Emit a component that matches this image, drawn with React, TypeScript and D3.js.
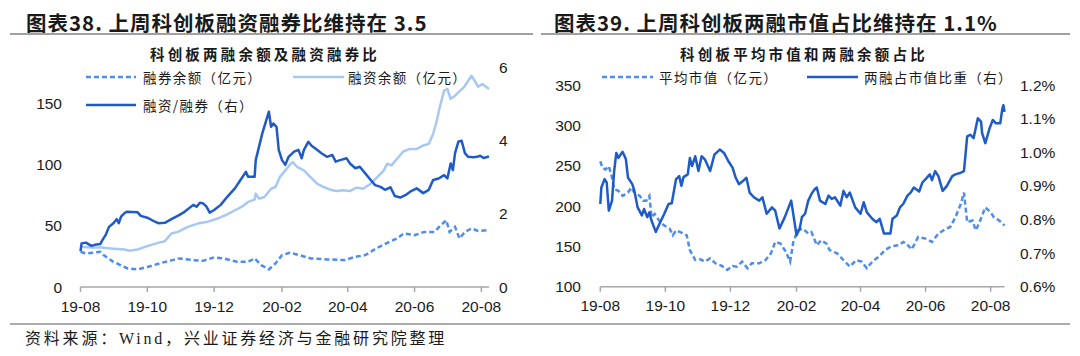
import React from 'react';
import * as d3 from 'd3';

const parse = d3.timeParse('%Y-%m-%d');

// ---------- Left chart (图表38) ----------
const leftTitle = '图表38. 上周科创板融资融券比维持在 3.5';
const leftSubtitle = '科创板两融余额及融资融券比';
const leftLegend = ['融券余额（亿元）', '融资余额（亿元）', '融资/融券（右）'];
const leftYTicks = [0, 50, 100, 150];
const leftY2Ticks = [0, 2, 4, 6];

const ratioDates = ['2019-08-01','2019-08-02','2019-08-06','2019-08-11','2019-08-14','2019-08-19','2019-08-21','2019-08-24','2019-08-27','2019-08-31','2019-09-03','2019-09-05','2019-09-07','2019-09-10','2019-09-12','2019-09-22','2019-09-25','2019-10-01','2019-10-08','2019-10-11','2019-10-17','2019-10-23','2019-10-30','2019-11-04','2019-11-12','2019-11-15','2019-11-18','2019-11-21','2019-11-24','2019-11-27','2019-12-01','2019-12-07','2019-12-13','2019-12-20','2019-12-26','2019-12-30','2020-01-01','2020-01-07','2020-01-08','2020-01-14','2020-01-20','2020-01-22','2020-01-24','2020-01-27','2020-01-29','2020-02-01','2020-02-04','2020-02-07','2020-02-12','2020-02-16','2020-02-19','2020-02-21','2020-02-25','2020-02-28','2020-03-04','2020-03-08','2020-03-13','2020-03-18','2020-03-21','2020-03-25','2020-03-31','2020-04-03','2020-04-08','2020-04-12','2020-04-17','2020-04-22','2020-04-26','2020-05-01','2020-05-05','2020-05-10','2020-05-14','2020-05-19','2020-05-24','2020-05-28','2020-06-03','2020-06-09','2020-06-14','2020-06-18','2020-06-23','2020-06-28','2020-07-01','2020-07-04','2020-07-06','2020-07-08','2020-07-11','2020-07-14','2020-07-17','2020-07-20','2020-07-25','2020-07-28','2020-07-31','2020-08-03','2020-08-08'];
const ratioValues = [0.98,1.19,1.21,1.12,1.15,1.17,1.28,1.42,1.64,1.74,1.85,1.74,1.92,2.01,2.05,2.04,1.94,1.89,1.78,1.74,1.75,1.85,1.96,2.05,2.24,2.19,2.30,2.28,2.19,2.03,2.10,2.24,2.46,2.69,2.96,3.14,3.01,3.01,3.46,4.19,4.78,4.37,4.46,4.37,3.74,3.46,3.33,3.55,3.69,3.74,3.51,3.74,3.96,3.85,3.74,3.65,3.55,3.60,3.42,3.46,3.51,3.37,3.24,3.28,3.10,2.92,2.78,2.73,2.65,2.72,2.48,2.44,2.51,2.60,2.69,2.56,2.65,2.92,2.96,3.05,2.96,3.37,3.19,3.65,3.96,3.99,3.65,3.55,3.54,3.55,3.58,3.52,3.56];

const financingDates = ['2019-08-01','2019-08-11','2019-08-20','2019-08-29','2019-09-10','2019-09-15','2019-09-22','2019-10-01','2019-10-11','2019-10-17','2019-10-23','2019-10-29','2019-11-07','2019-11-16','2019-11-25','2019-12-04','2019-12-13','2019-12-20','2019-12-26','2020-01-01','2020-01-07','2020-01-08','2020-01-11','2020-01-16','2020-01-22','2020-01-26','2020-01-30','2020-02-04','2020-02-09','2020-02-11','2020-02-15','2020-02-21','2020-02-27','2020-03-04','2020-03-10','2020-03-16','2020-03-22','2020-03-28','2020-04-03','2020-04-09','2020-04-15','2020-04-22','2020-04-28','2020-05-04','2020-05-07','2020-05-11','2020-05-16','2020-05-22','2020-05-28','2020-06-03','2020-06-09','2020-06-14','2020-06-18','2020-06-21','2020-06-24','2020-06-28','2020-07-01','2020-07-04','2020-07-08','2020-07-11','2020-07-16','2020-07-20','2020-07-23','2020-07-26','2020-07-29','2020-08-02','2020-08-08'];
const financingValues = [32.9,32.3,32.3,31.5,30.7,29.6,30.7,33.4,36.1,37.5,43.8,45.1,49.2,51.9,53.3,56.0,59.5,62.8,65.5,69.6,71.5,76.4,72.3,73.6,80.4,81.8,89.9,95.4,100.8,102.2,98.0,95.4,89.9,84.5,81.8,79.6,78.5,79.1,78.5,81.3,80.4,84.5,89.9,95.4,100.8,99.5,104.9,111.1,113.0,113.0,115.8,117.1,125.3,134.8,147.0,160.6,162.0,153.8,156.5,159.2,163.3,168.7,172.8,168.7,163.9,166.0,162.0];

const shortDates = ['2019-08-01','2019-08-06','2019-08-19','2019-08-22','2019-08-31','2019-09-13','2019-09-22','2019-10-02','2019-10-14','2019-10-24','2019-10-30','2019-11-12','2019-11-21','2019-12-01','2019-12-10','2019-12-22','2020-01-01','2020-01-07','2020-01-13','2020-01-20','2020-01-26','2020-02-01','2020-02-08','2020-02-17','2020-02-27','2020-03-13','2020-03-29','2020-04-08','2020-04-17','2020-04-27','2020-05-06','2020-05-16','2020-05-22','2020-06-01','2020-06-10','2020-06-19','2020-06-25','2020-06-30','2020-07-03','2020-07-08','2020-07-12','2020-07-17','2020-07-23','2020-07-29','2020-08-08'];
const shortValues = [28.8,27.4,28.8,26.1,20.6,15.2,14.4,16.6,19.8,22.0,23.4,22.0,21.4,24.2,23.4,20.6,20.6,23.4,17.9,14.4,19.3,26.1,28.0,26.1,23.4,22.6,22.0,24.7,26.1,31.5,35.6,39.7,43.8,42.4,45.1,45.1,50.5,54.6,45.1,49.2,39.7,45.1,47.9,45.9,46.5];

// ---------- Right chart (图表39) ----------
const rightTitle = '图表39. 上周科创板两融市值占比维持在 1.1%';
const rightSubtitle = '科创板平均市值和两融余额占比';
const rightLegend = ['平均市值（亿元）', '两融占市值比重（右）'];
const rightYTicks = [100, 150, 200, 250, 300, 350];
const rightY2Ticks = [0.6, 0.7, 0.8, 0.9, 1.0, 1.1, 1.2];

const shareDates = ['2019-08-01','2019-08-02','2019-08-05','2019-08-07','2019-08-09','2019-08-12','2019-08-14','2019-08-16','2019-08-18','2019-08-20','2019-08-22','2019-08-25','2019-08-27','2019-08-31','2019-09-02','2019-09-05','2019-09-09','2019-09-11','2019-09-14','2019-09-16','2019-09-18','2019-09-22','2019-09-24','2019-09-27','2019-09-30','2019-10-04','2019-10-07','2019-10-11','2019-10-14','2019-10-16','2019-10-18','2019-10-22','2019-10-24','2019-10-26','2019-10-29','2019-11-01','2019-11-04','2019-11-07','2019-11-12','2019-11-16','2019-11-21','2019-11-25','2019-11-29','2019-12-03','2019-12-06','2019-12-09','2019-12-13','2019-12-16','2019-12-19','2019-12-23','2019-12-28','2019-12-31','2020-01-04','2020-01-09','2020-01-12','2020-01-16','2020-01-21','2020-01-27','2020-02-01','2020-02-04','2020-02-06','2020-02-09','2020-02-12','2020-02-15','2020-02-18','2020-02-20','2020-02-23','2020-02-28','2020-03-02','2020-03-05','2020-03-08','2020-03-13','2020-03-16','2020-03-19','2020-03-22','2020-03-27','2020-04-01','2020-04-04','2020-04-07','2020-04-12','2020-04-16','2020-04-19','2020-04-23','2020-04-29','2020-05-01','2020-05-05','2020-05-08','2020-05-11','2020-05-15','2020-05-18','2020-05-21','2020-05-26','2020-05-29','2020-06-01','2020-06-05','2020-06-07','2020-06-10','2020-06-13','2020-06-17','2020-06-21','2020-06-26','2020-06-29','2020-07-04','2020-07-07','2020-07-10','2020-07-13','2020-07-16','2020-07-20','2020-07-23','2020-07-24','2020-07-27','2020-07-31','2020-08-03','2020-08-06','2020-08-10','2020-08-12','2020-08-13','2020-08-14'];
const shareValues = [0.846,0.895,0.920,0.910,0.826,0.856,0.944,0.998,0.983,0.993,1.001,0.979,0.924,0.905,0.885,0.836,0.812,0.831,0.807,0.821,0.797,0.763,0.777,0.797,0.817,0.846,0.848,0.920,0.929,0.900,0.926,0.934,0.983,0.959,0.988,0.944,0.988,0.979,0.944,0.993,1.008,0.998,0.974,0.954,0.924,0.905,0.915,0.924,0.880,0.866,0.856,0.866,0.817,0.836,0.826,0.773,0.807,0.856,0.753,0.773,0.807,0.817,0.856,0.876,0.890,0.895,0.856,0.846,0.871,0.861,0.866,0.841,0.885,0.866,0.880,0.836,0.817,0.851,0.821,0.802,0.792,0.802,0.758,0.758,0.802,0.812,0.836,0.846,0.871,0.880,0.895,0.883,0.910,0.920,0.934,0.917,0.944,0.929,0.885,0.900,0.929,0.934,0.939,0.944,1.047,1.052,1.042,1.101,1.091,1.057,1.027,1.071,1.096,1.086,1.086,1.130,1.140,1.120];

const avgCapDates = ['2019-08-01','2019-08-03','2019-08-06','2019-08-09','2019-08-12','2019-08-14','2019-08-18','2019-08-22','2019-08-27','2019-08-30','2019-09-02','2019-09-07','2019-09-10','2019-09-13','2019-09-16','2019-09-18','2019-09-21','2019-09-26','2019-09-30','2019-10-05','2019-10-08','2019-10-11','2019-10-17','2019-10-21','2019-10-24','2019-10-29','2019-11-03','2019-11-07','2019-11-12','2019-11-17','2019-11-23','2019-11-28','2019-12-03','2019-12-07','2019-12-12','2019-12-17','2019-12-21','2019-12-28','2020-01-03','2020-01-08','2020-01-12','2020-01-17','2020-01-22','2020-01-26','2020-01-29','2020-02-02','2020-02-07','2020-02-12','2020-02-15','2020-02-20','2020-02-24','2020-02-29','2020-03-03','2020-03-10','2020-03-16','2020-03-22','2020-03-28','2020-04-02','2020-04-07','2020-04-12','2020-04-18','2020-04-24','2020-04-30','2020-05-07','2020-05-11','2020-05-14','2020-05-19','2020-05-25','2020-06-01','2020-06-07','2020-06-13','2020-06-20','2020-06-24','2020-06-29','2020-07-04','2020-07-07','2020-07-10','2020-07-15','2020-07-18','2020-07-21','2020-07-27','2020-08-01','2020-08-04','2020-08-09','2020-08-14'];
const avgCapValues = [255.5,247.3,245.3,249.4,235.1,220.9,218.8,212.6,216.7,222.8,216.7,212.6,206.5,206.5,212.6,186.1,190.2,180.0,175.9,171.9,163.7,169.8,166.5,163.7,145.3,133.1,133.9,131.0,135.1,129.0,125.7,120.8,125.7,124.9,131.0,122.9,129.0,129.0,133.1,141.3,155.5,153.5,143.2,131.0,155.5,169.8,171.9,165.8,167.7,151.4,157.5,153.5,145.3,141.3,133.1,124.9,133.1,131.0,122.9,131.0,137.1,145.3,150.2,151.4,155.5,153.5,146.2,161.6,159.6,155.5,165.8,171.9,173.8,186.1,202.5,216.7,180.0,182.0,169.8,178.0,198.3,192.2,186.1,182.0,175.9];

const xTickDates = ['2019-08-01','2019-10-01','2019-12-01','2020-02-01','2020-04-01','2020-06-01','2020-08-01'];
const xTickLabels = ['19-08','19-10','19-12','20-02','20-04','20-06','20-08'];

const sourceText = '资料来源：Wind，兴业证券经济与金融研究院整理';

const C_DARK = '#1F5BC8';
const C_LIGHT = '#A8C8F4';
const C_DASH = '#4E8CEE';
const C_TEXT = '#1a1a1a';
const CJK = '"Noto Sans CJK SC", sans-serif';
const NUM = '"Liberation Sans", Arial, sans-serif';

type Pt = { d: Date; v: number };
const zip = (ds: string[], vs: number[]): Pt[] => ds.map((s, i) => ({ d: parse(s)!, v: vs[i] }));

function XAxis({ x, y0 }: { x: d3.ScaleTime<number, number>; y0: number }) {
  const [x0, x1] = x.range();
  const ticks = xTickDates.map((s) => x(parse(s)!));
  return (
    <g>
      <line x1={x0} x2={x1} y1={y0} y2={y0} stroke="#A6A6A6" strokeWidth={1.5} />
      {ticks.map((t, i) => (
        <line key={i} x1={t} x2={t} y1={y0} y2={y0 + 5} stroke="#A6A6A6" strokeWidth={1.5} />
      ))}
      {ticks.map((t, i) => (
        <text key={'l' + i} x={t} y={y0 + 19} textAnchor="middle" dominantBaseline="central" fontFamily={NUM} fontSize={15.5} fill={C_TEXT}>
          {xTickLabels[i]}
        </text>
      ))}
    </g>
  );
}

const legendText = { fontFamily: CJK, fontSize: 13.5, letterSpacing: 1.4, fill: C_TEXT } as const;
const titleText = { fontFamily: CJK, fontWeight: 700, fontSize: 20.5, letterSpacing: 1, fill: C_TEXT } as const;
const subText = { fontFamily: CJK, fontWeight: 700, fontSize: 14.5, letterSpacing: 3.2, fill: C_TEXT } as const;

function LeftChart() {
  const x = d3.scaleTime().domain([parse('2019-08-01')!, parse('2020-08-08')!]).range([80.5, 489]);
  const yL = d3.scaleLinear().domain([0, 180]).range([287, 67]);
  const yR = d3.scaleLinear().domain([0, 6]).range([287, 67]);
  const lineL = d3.line<Pt>().x((p) => x(p.d)).y((p) => yL(p.v));
  const lineR = d3.line<Pt>().x((p) => x(p.d)).y((p) => yR(p.v));
  return (
    <g>
      <text x={26} y={22} dominantBaseline="central" {...titleText}>{leftTitle}</text>
      <line x1={10} x2={533} y1={34} y2={34} stroke="#808080" strokeWidth={1.5} />
      <text x={265} y={53} textAnchor="middle" dominantBaseline="central" {...subText}>{leftSubtitle}</text>

      {leftYTicks.map((t) => (
        <text key={t} x={62} y={yL(t)} textAnchor="end" dominantBaseline="central" fontFamily={NUM} fontSize={15.5} fill={C_TEXT}>{t}</text>
      ))}
      {leftY2Ticks.map((t) => (
        <text key={t} x={499} y={yR(t)} textAnchor="start" dominantBaseline="central" fontFamily={NUM} fontSize={15.5} fill={C_TEXT}>{t}</text>
      ))}

      <path d={lineL(zip(financingDates, financingValues)) || ''} fill="none" stroke={C_LIGHT} strokeWidth={2.5} strokeLinejoin="round" />
      <path d={lineL(zip(shortDates, shortValues)) || ''} fill="none" stroke={C_DASH} strokeWidth={2.5} strokeDasharray="5,3" />
      <path d={lineR(zip(ratioDates, ratioValues)) || ''} fill="none" stroke={C_DARK} strokeWidth={2.5} strokeLinejoin="round" />

      <XAxis x={x} y0={287} />

      <line x1={86} x2={136} y1={77} y2={77} stroke={C_DASH} strokeWidth={2.5} strokeDasharray="5,3" />
      <text x={143} y={77} dominantBaseline="central" {...legendText}>{leftLegend[0]}</text>
      <line x1={293} x2={344} y1={77} y2={77} stroke={C_LIGHT} strokeWidth={2.5} />
      <text x={348} y={77} dominantBaseline="central" {...legendText}>{leftLegend[1]}</text>
      <line x1={86} x2={136} y1={105} y2={105} stroke={C_DARK} strokeWidth={2.5} />
      <text x={143} y={105} dominantBaseline="central" {...legendText}>{leftLegend[2]}</text>
    </g>
  );
}

function RightChart() {
  const x = d3.scaleTime().domain([parse('2019-08-01')!, parse('2020-08-14')!]).range([600.3, 1004.5]);
  const yL = d3.scaleLinear().domain([100, 350]).range([286.7, 85]);
  const yR = d3.scaleLinear().domain([0.6, 1.2]).range([286.7, 85]);
  const lineL = d3.line<Pt>().x((p) => x(p.d)).y((p) => yL(p.v));
  const lineR = d3.line<Pt>().x((p) => x(p.d)).y((p) => yR(p.v));
  return (
    <g>
      <text x={554} y={22} dominantBaseline="central" {...titleText}>{rightTitle}</text>
      <line x1={541} x2={1070} y1={34} y2={34} stroke="#808080" strokeWidth={1.5} />
      <text x={804} y={53} textAnchor="middle" dominantBaseline="central" {...subText}>{rightSubtitle}</text>

      {rightYTicks.map((t) => (
        <text key={t} x={581} y={yL(t)} textAnchor="end" dominantBaseline="central" fontFamily={NUM} fontSize={15.5} fill={C_TEXT}>{t}</text>
      ))}
      {rightY2Ticks.map((t) => (
        <text key={t} x={1020} y={yR(t)} textAnchor="start" dominantBaseline="central" fontFamily={NUM} fontSize={15.5} fill={C_TEXT}>{t.toFixed(1) + '%'}</text>
      ))}

      <path d={lineL(zip(avgCapDates, avgCapValues)) || ''} fill="none" stroke={C_DASH} strokeWidth={2.5} strokeDasharray="5,3" />
      <path d={lineR(zip(shareDates, shareValues)) || ''} fill="none" stroke={C_DARK} strokeWidth={2.5} strokeLinejoin="round" />

      <XAxis x={x} y0={286.7} />

      <line x1={602} x2={653} y1={77} y2={77} stroke={C_DASH} strokeWidth={2.5} strokeDasharray="5,3" />
      <text x={659} y={77} dominantBaseline="central" {...legendText}>{rightLegend[0]}</text>
      <line x1={807} x2={858} y1={77} y2={77} stroke={C_DARK} strokeWidth={2.5} />
      <text x={864} y={77} dominantBaseline="central" {...legendText}>{rightLegend[1]}</text>
    </g>
  );
}

export default function App() {
  return (
    <svg width={1080} height={356} viewBox="0 0 1080 356" style={{ position: 'absolute', left: 0, top: 0, background: '#fff' }}>
      <rect x={0} y={0} width={1080} height={356} fill="#fff" />
      <LeftChart />
      <RightChart />
      <line x1={10} x2={1070} y1={324} y2={324} stroke="#595959" strokeWidth={1.2} />
      <text x={25} y={338} dominantBaseline="central" fontFamily={'"Liberation Serif", "Noto Sans CJK SC", serif'} fontSize={16} letterSpacing={2.8} fill={C_TEXT}>{sourceText}</text>
    </svg>
  );
}
